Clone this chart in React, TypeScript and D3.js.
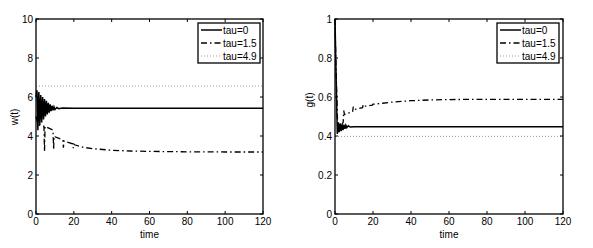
import React from "react";
import * as d3 from "d3";

// ---- Data ----
const xTicks = [0, 20, 40, 60, 80, 100, 120];
const wTicks = [0, 2, 4, 6, 8, 10];
const gTicks = [0, 0.2, 0.4, 0.6, 0.8, 1];
const legendLabels = ["tau=0", "tau=1.5", "tau=4.9"];

// w(t), tau=0
const wT0 = [0, 0.5, 1.0, 1.5, 2.0, 2.5, 3.0, 3.5, 4.0, 4.5, 5.0, 5.5, 6.0, 6.5, 7.0, 7.5, 8.0, 8.5, 9.0, 9.5, 10, 11, 12, 14, 20, 120];
const wV0 = [6.0, 6.35, 4.3, 6.25, 4.55, 6.1, 4.7, 6.0, 4.85, 5.9, 5.0, 5.8, 5.1, 5.7, 5.2, 5.62, 5.27, 5.55, 5.32, 5.5, 5.36, 5.46, 5.4, 5.43, 5.42, 5.42];
// w(t), tau=1.5
const wT1 = [0, 1, 2, 4.2, 4.5, 4.8, 5.2, 9.0, 9.3, 9.6, 10, 14.2, 14.5, 14.8, 15.2, 19.4, 19.7, 20, 20.4, 25, 30, 40, 50, 60, 80, 100, 120];
const wV1 = [5.0, 4.6, 4.55, 4.5, 3.2, 4.5, 4.48, 4.3, 3.3, 4.0, 3.96, 3.8, 3.4, 3.75, 3.72, 3.6, 3.38, 3.58, 3.55, 3.42, 3.35, 3.27, 3.23, 3.21, 3.19, 3.18, 3.18];
// w(t), tau=4.9
const wT2 = [0, 120];
const wV2 = [6.56, 6.56];

// g(t), tau=0
const gT0 = [0, 0.3, 1.2, 1.7, 2.2, 2.7, 3.2, 3.7, 4.2, 4.7, 5.2, 5.7, 6.2, 7, 8, 10, 120];
const gV0 = [1.0, 0.85, 0.41, 0.47, 0.42, 0.465, 0.425, 0.46, 0.43, 0.458, 0.437, 0.455, 0.442, 0.452, 0.446, 0.448, 0.448];
// g(t), tau=1.5
const gT1 = [0, 0.4, 1.5, 3, 4.3, 4.6, 5, 9.3, 9.6, 10, 14.5, 14.8, 15.2, 19.7, 20, 25, 30, 40, 50, 60, 80, 100, 120];
const gV1 = [1.0, 0.8, 0.42, 0.45, 0.47, 0.53, 0.51, 0.525, 0.55, 0.535, 0.545, 0.56, 0.552, 0.558, 0.563, 0.568, 0.574, 0.581, 0.585, 0.587, 0.588, 0.588, 0.588];
// g(t), tau=4.9
const gT2 = [0, 120];
const gV2 = [0.398, 0.398];

const FONT = "'Liberation Sans', Arial, sans-serif";

type Series = { t: number[]; v: number[] };

const styles = [
  { stroke: "#000", width: 1.5, dash: undefined as string | undefined },
  { stroke: "#000", width: 1.3, dash: "6,3,1.5,3" },
  { stroke: "#999", width: 1, dash: "1,2" },
];

function Panel({ x0, x1, y0, y1, yDomain, yTicks, yLabel, yLabelX, yLabelY, series, legendX }: {
  x0: number; x1: number; y0: number; y1: number; yDomain: [number, number]; yTicks: number[];
  yLabel: string; yLabelX: number; yLabelY: number; series: Series[]; legendX: number;
}) {
  const xs = d3.scaleLinear().domain([0, 120]).range([x0, x1]);
  const ys = d3.scaleLinear().domain(yDomain).range([y1, y0]);
  const line = d3.line<[number, number]>().x(d => xs(d[0])).y(d => ys(d[1]));
  const tl = 3;
  const lw = 62, lh = 40, ly = 23;
  return (
    <g>
      {series.map((s, i) => (
        <path key={i} d={line(s.t.map((t, j) => [t, s.v[j]] as [number, number])) || ""}
          fill="none" stroke={styles[i].stroke} strokeWidth={styles[i].width}
          strokeDasharray={styles[i].dash} />
      ))}
      {xTicks.map(t => (
        <g key={"x" + t}>
          <line x1={xs(t)} x2={xs(t)} y1={y1} y2={y1 - tl} stroke="#000" />
          <line x1={xs(t)} x2={xs(t)} y1={y0} y2={y0 + tl} stroke="#000" />
          <text x={xs(t)} y={y1 + 11} textAnchor="middle" fontSize={10} fontFamily={FONT}>{t}</text>
        </g>
      ))}
      {yTicks.map(t => (
        <g key={"y" + t}>
          <line x1={x0} x2={x0 + tl} y1={ys(t)} y2={ys(t)} stroke="#000" />
          <line x1={x1} x2={x1 - tl} y1={ys(t)} y2={ys(t)} stroke="#000" />
          <text x={x0 - 3} y={ys(t) + 3.5} textAnchor="end" fontSize={10} fontFamily={FONT}>{t}</text>
        </g>
      ))}
      <rect x={x0} y={y0} width={x1 - x0} height={y1 - y0} fill="none" stroke="#000" strokeWidth={1.3} />
      <text x={(x0 + x1) / 2} y={y1 + 24} textAnchor="middle" fontSize={10} fontFamily={FONT}>time</text>
      <text transform={`translate(${yLabelX},${yLabelY}) rotate(-90)`} textAnchor="middle" fontSize={10} fontFamily={FONT}>{yLabel}</text>
      <rect x={legendX} y={ly} width={lw} height={lh} fill="#fff" stroke="#000" strokeWidth={1.3} />
      {legendLabels.map((lab, i) => (
        <g key={lab}>
          <line x1={legendX + 3} x2={legendX + 24} y1={ly + 7 + i * 13} y2={ly + 7 + i * 13}
            stroke={styles[i].stroke} strokeWidth={styles[i].width} strokeDasharray={styles[i].dash} />
          <text x={legendX + 25} y={ly + 10.5 + i * 13} fontSize={10} fontFamily={FONT}>{lab}</text>
        </g>
      ))}
    </g>
  );
}

export default function App() {
  return (
    <svg width={593} height={248} style={{ position: "absolute", left: 0, top: 0, background: "#fff" }}>
      <rect width={593} height={248} fill="#fff" />
      <Panel x0={36} x1={263} y0={19} y1={214} yDomain={[0, 10]} yTicks={wTicks} yLabel="w(t)" yLabelX={18} yLabelY={117}
        series={[{ t: wT0, v: wV0 }, { t: wT1, v: wV1 }, { t: wT2, v: wV2 }]} legendX={198} />
      <Panel x0={335} x1={563} y0={19} y1={214} yDomain={[0, 1]} yTicks={gTicks} yLabel="g(t)" yLabelX={313} yLabelY={100}
        series={[{ t: gT0, v: gV0 }, { t: gT1, v: gV1 }, { t: gT2, v: gV2 }]} legendX={497} />
    </svg>
  );
}
